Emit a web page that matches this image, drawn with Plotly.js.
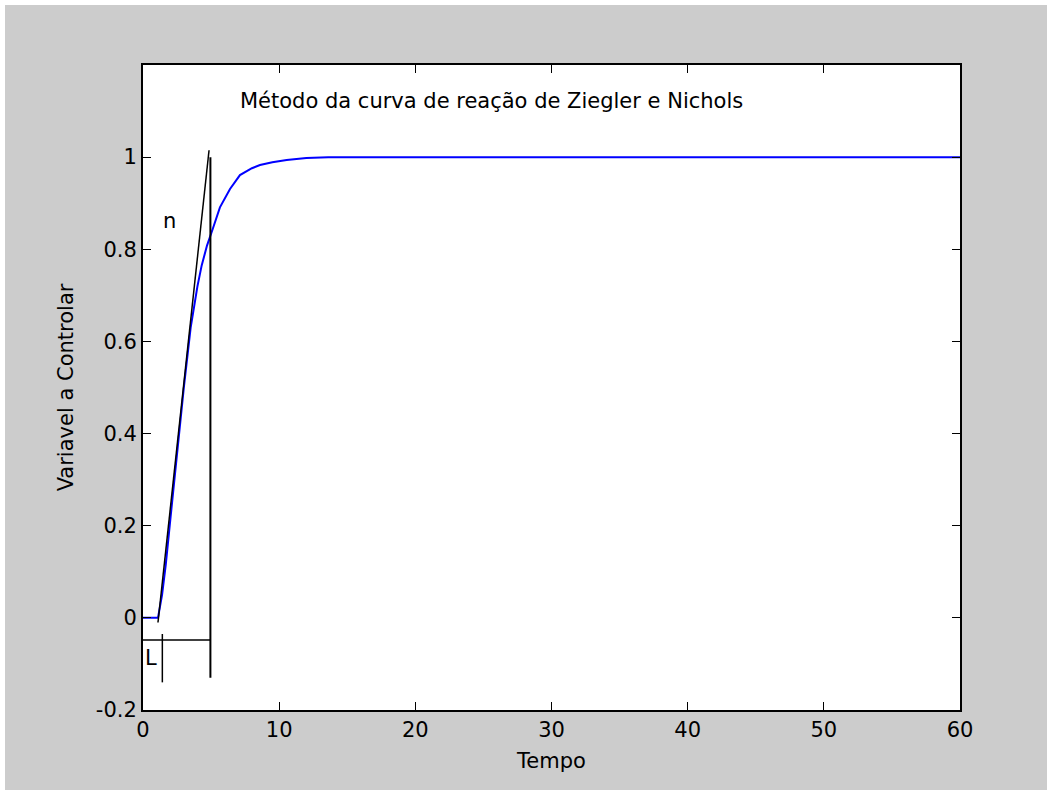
<!DOCTYPE html>
<html>
<head>
<meta charset="utf-8">
<script src="https://cdn.plot.ly/plotly-3.0.1.min.js"></script>
<style>html,body{margin:0;padding:0;background:#fff;}#chart{width:1047px;height:790px;}</style>
</head>
<body>
<div id="chart"></div>
<script>
// Step response (Variavel a Controlar vs Tempo)
const tempo    = [0, 1.1, 1.4, 1.67, 2.03, 2.5, 3.0, 3.5, 3.69, 4.0, 4.31, 4.7, 5.12, 5.65, 6.39, 7.12, 8.0, 8.59, 9.5, 10.55, 12.0, 13.6, 20, 30, 40, 50, 60];
const variavel = [0, 0, 0.05, 0.115, 0.22, 0.36, 0.50, 0.63, 0.667, 0.72, 0.765, 0.808, 0.844, 0.891, 0.931, 0.961, 0.976, 0.983, 0.989, 0.994, 0.998, 1.0, 1.0, 1.0, 1.0, 1.0, 1.0];

// Tangent line (inflection tangent)
const tangX = [1.1, 4.85];
const tangY = [-0.01, 1.015];
// Vertical marker at end of tangent
const vertX = [4.95, 4.95];
const vertY = [1.0, -0.13];
// Horizontal dimension line
const horzX = [-0.2, 4.95];
const horzY = [-0.048, -0.048];
// Small tick marking L
const lTickX = [1.42, 1.42];
const lTickY = [-0.035, -0.14];

// Labels
const titleText = 'Método da curva de reação de Ziegler e Nichols';
const titlePos = [7, 1.122];
const nLabel = 'n', nPos = [1.98, 0.862];
const lLabel = 'L', lPos = [0.62, -0.087];
const xLabel = 'Tempo';
const yLabel = 'Variavel a Controlar';
const xTicks = [0, 10, 20, 30, 40, 50, 60];
const yTicks = [-0.2, 0, 0.2, 0.4, 0.6, 0.8, 1];
const yTickText = ['-0.2', '0', '0.2', '0.4', '0.6', '0.8', '1'];

const FONT = '"DejaVu Sans", "Liberation Sans", Arial, sans-serif';
const FS = 21;

const traces = [
  {x: tempo, y: variavel, mode: 'lines', line: {color: '#0000ff', width: 2}, hoverinfo: 'skip'},
  {x: tangX, y: tangY, mode: 'lines', line: {color: '#000', width: 1.5}, hoverinfo: 'skip'},
  {x: vertX, y: vertY, mode: 'lines', line: {color: '#000', width: 2}, hoverinfo: 'skip'},
  {x: horzX, y: horzY, mode: 'lines', line: {color: '#000', width: 1.5}, hoverinfo: 'skip'},
  {x: lTickX, y: lTickY, mode: 'lines', line: {color: '#000', width: 1.5}, hoverinfo: 'skip'}
];

const layout = {
  width: 1047, height: 790,
  margin: {l: 143, r: 87, t: 65, b: 80, pad: 0},
  paper_bgcolor: '#cccccc',
  plot_bgcolor: '#ffffff',
  showlegend: false,
  font: {family: FONT, size: FS, color: '#000'},
  xaxis: {
    range: [0, 60], tickvals: xTicks, ticktext: xTicks.map(String),
    ticks: 'inside', ticklen: 8, tickwidth: 1, tickcolor: '#000',
    showline: true, linecolor: '#000', linewidth: 2, mirror: 'ticks',
    showgrid: false, zeroline: false,
    tickfont: {family: FONT, size: FS, color: '#000'},
    title: {text: xLabel, font: {family: FONT, size: FS, color: '#000'}, standoff: 12}
  },
  yaxis: {
    range: [-0.2, 1.2], tickvals: yTicks, ticktext: yTickText,
    ticks: 'inside', ticklen: 8, tickwidth: 1, tickcolor: '#000',
    showline: true, linecolor: '#000', linewidth: 2, mirror: 'ticks',
    showgrid: false, zeroline: false,
    tickfont: {family: FONT, size: FS, color: '#000'},
    title: {text: yLabel, font: {family: FONT, size: FS, color: '#000'}, standoff: 16}
  },
  shapes: [
    {type: 'rect', xref: 'paper', yref: 'paper', x0: -0.2, x1: 1.2, y0: 1.093, y1: 1.2,
     fillcolor: '#ffffff', line: {width: 0}, layer: 'below'},
    {type: 'rect', xref: 'paper', yref: 'paper', x0: -0.2, x1: -0.1689, y0: -0.2, y1: 1.2,
     fillcolor: '#ffffff', line: {width: 0}, layer: 'below'}
  ],
  annotations: [
    {x: titlePos[0], y: titlePos[1], xref: 'x', yref: 'y', text: titleText, showarrow: false,
     xanchor: 'left', yanchor: 'middle', font: {family: FONT, size: FS, color: '#000'}},
    {x: nPos[0], y: nPos[1], xref: 'x', yref: 'y', text: nLabel, showarrow: false,
     xanchor: 'center', yanchor: 'middle', font: {family: FONT, size: FS, color: '#000'}},
    {x: lPos[0], y: lPos[1], xref: 'x', yref: 'y', text: lLabel, showarrow: false,
     xanchor: 'center', yanchor: 'middle', font: {family: FONT, size: FS, color: '#000'}}
  ]
};

Plotly.newPlot('chart', traces, layout, {staticPlot: true, displayModeBar: false});
</script>
</body>
</html>
